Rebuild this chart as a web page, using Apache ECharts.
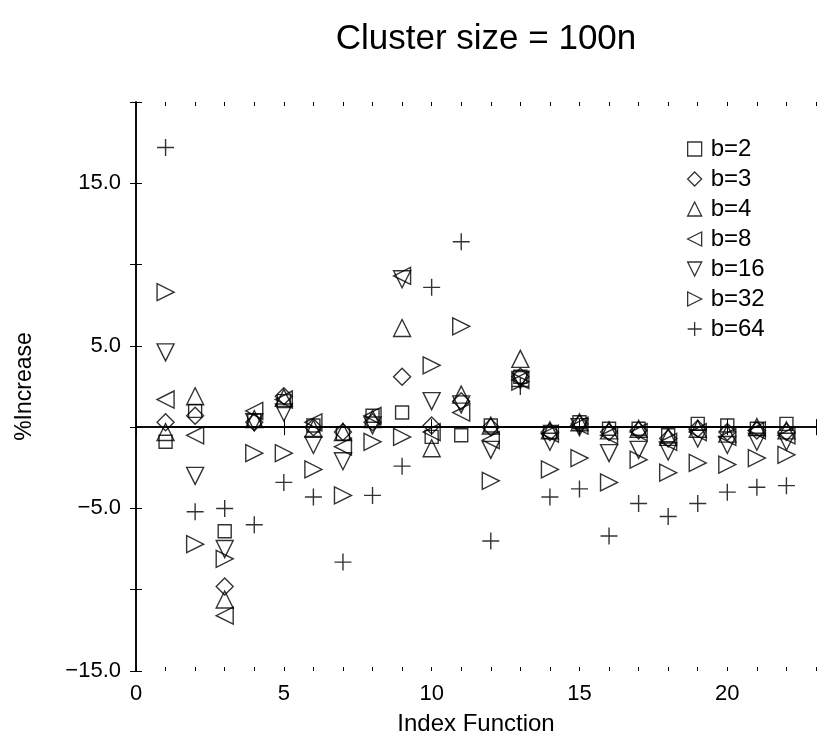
<!DOCTYPE html>
<html>
<head>
<meta charset="utf-8">
<script src="https://cdn.jsdelivr.net/npm/echarts@6/dist/echarts.min.js"></script>
<style>
html,body{margin:0;padding:0;background:#fff;}
#chart{width:819px;height:741px;}
</style>
</head>
<body>
<div id="chart"></div>
<script>
// ---- data ----
const indexFunctions = [1,2,3,4,5,6,7,8,9,10,11,12,13,14,15,16,17,18,19,20,21,22];
const b2  = [-0.9, 1.0, -6.4, 0.4, 1.6, 0.1, -0.4, 0.7, 0.9, -0.6, -0.5, 0.1, 3.1, -0.3, 0.3, -0.1, -0.1, -0.5, 0.2, 0.1, -0.1, 0.2];
const b3  = [0.3, 0.7, -9.8, 0.3, 1.9, 0.0, -0.3, 0.3, 3.1, 0.1, 1.6, 0.0, 3.1, -0.3, 0.2, -0.3, -0.2, -0.7, -0.1, -0.3, -0.2, -0.3];
const b4  = [-0.3, 1.9, -10.6, 0.5, 1.8, -0.1, -0.3, 0.5, 6.1, -1.3, 2.0, 0.1, 4.2, -0.2, 0.3, -0.2, -0.1, -0.6, -0.1, -0.4, 0.0, -0.2];
const b8  = [1.7, -0.5, -11.6, 1.0, 1.7, 0.3, -1.2, 0.7, 9.3, -0.3, 0.9, -0.8, 2.9, -0.4, 0.1, -0.5, -0.3, -0.9, -0.3, -0.6, -0.2, -0.5];
const b16 = [4.6, -3.0, -7.5, 0.3, 0.9, -1.1, -2.1, 0.1, 9.1, 1.6, 1.4, -1.4, 2.9, -0.9, 0.0, -1.6, -1.4, -1.5, -0.7, -1.1, -0.9, -0.9];
const b32 = [8.3, -7.2, -8.1, -1.6, -1.6, -2.6, -4.2, -0.9, -0.6, 3.8, 6.2, -3.3, 2.8, -2.6, -1.9, -3.4, -2.0, -2.8, -2.2, -2.3, -1.9, -1.7];
const b64 = [17.2, -5.2, -5.0, -6.0, -3.4, -4.3, -8.3, -4.2, -2.4, 8.6, 11.4, -7.0, 2.5, -4.3, -3.8, -6.7, -4.7, -5.5, -4.7, -4.0, -3.7, -3.6];
const seriesNames = ['b=2','b=3','b=4','b=8','b=16','b=32','b=64'];
const zeroLineX = [1, 22];
const xTickLabels = [0, 5, 10, 15, 20];
const yTickLabels = [-15, -5, 5, 15];
const titleText = 'Cluster size = 100n';
const xAxisName = 'Index Function';
const yAxisName = '%Increase';

// ---- styling ----
const FONT = '"Liberation Sans", Arial, Helvetica, sans-serif';
const symbols = [
  'rect',
  'diamond',
  'path://M1,0 L2,2 L0,2 Z',
  'path://M2,0 L2,2 L0,1 Z',
  'path://M0,0 L2,0 L1,2 Z',
  'path://M0,0 L0,2 L2,1 Z',
  'path://M1,0 L1,2 M0,1 L2,1'
];
const sizes = [13, 17, 17, 17, 17, 17, 17];
const allValues = [b2, b3, b4, b8, b16, b32, b64];
const markStyle = { color: 'rgba(0,0,0,0)', borderColor: '#000', borderWidth: 1.4 };

const series = allValues.map((vals, k) => ({
  name: seriesNames[k],
  type: 'scatter',
  xAxisIndex: 0,
  yAxisIndex: 0,
  symbol: symbols[k],
  symbolSize: sizes[k],
  data: vals.map((v, i) => [indexFunctions[i], v]),
  itemStyle: markStyle,
  emphasis: { disabled: true },
  z: 3
}));
series.unshift({
  name: 'zero',
  type: 'line',
  xAxisIndex: 0,
  yAxisIndex: 0,
  data: zeroLineX.map(x => [x, 0]),
  symbol: 'none',
  lineStyle: { color: '#000', width: 1.6 },
  silent: true,
  z: 2
});

const gridW = 23 * 30;
const option = {
  animation: false,
  backgroundColor: '#fff',
  title: {
    text: titleText,
    left: 481, top: 17,
    textAlign: 'center',
    textStyle: { fontFamily: FONT, fontSize: 35, fontWeight: 'normal', color: '#000' }
  },
  legend: {
    data: seriesNames.map(n => ({ name: n, itemStyle: { color: 'rgba(0,0,0,0)', borderColor: '#000', borderWidth: 1.3 } })),
    orient: 'vertical',
    left: 687, top: 137,
    padding: 0,
    itemWidth: 14, itemHeight: 14,
    itemGap: 6,
    textStyle: { fontFamily: FONT, fontSize: 24, color: '#000', lineHeight: 24, padding: [0,0,0,4] },
    selectedMode: false
  },
  grid: { left: 136, top: 102, width: gridW, height: 571 },
  xAxis: [
    { type: 'value', position: 'bottom', min: 0, max: 23, interval: 5,
      name: xAxisName, nameLocation: 'middle', nameGap: 41,
      nameTextStyle: { fontFamily: FONT, fontSize: 24, color: '#000' },
      axisLine: { show: true, lineStyle: { color: '#000', width: 1.5 } },
      axisTick: { show: true, inside: true, length: 8, lineStyle: { color: '#000' } },
      axisLabel: { fontFamily: FONT, fontSize: 22, color: '#000', margin: 12,
        formatter: v => xTickLabels.includes(v) ? String(v) : '' },
      splitLine: { show: false } },
    { type: 'value', position: 'top', min: 0, max: 23, interval: 5,
      axisLine: { show: true, lineStyle: { color: '#000', width: 1.5 } },
      axisTick: { show: true, inside: true, length: 8, lineStyle: { color: '#000' } },
      axisLabel: { show: false }, splitLine: { show: false } },
    { type: 'value', position: 'bottom', min: 0, max: 23, interval: 1,
      axisLine: { show: false },
      axisTick: { show: true, inside: true, length: 4, lineStyle: { color: '#000' } },
      axisLabel: { show: false }, splitLine: { show: false } },
    { type: 'value', position: 'top', min: 0, max: 23, interval: 1,
      axisLine: { show: false },
      axisTick: { show: true, inside: true, length: 4, lineStyle: { color: '#000' } },
      axisLabel: { show: false }, splitLine: { show: false } }
  ],
  yAxis: [
    { type: 'value', position: 'left', min: -15, max: 20, interval: 5,
      name: yAxisName, nameLocation: 'middle', nameGap: 100, nameRotate: 90,
      nameTextStyle: { fontFamily: FONT, fontSize: 23, color: '#000' },
      axisLine: { show: true, lineStyle: { color: '#000', width: 1.5 } },
      axisTick: { show: true, inside: true, length: 6, lineStyle: { color: '#000' } },
      axisLabel: { fontFamily: FONT, fontSize: 22, color: '#000', margin: 15,
        formatter: v => yTickLabels.includes(v) ? (v < 0 ? '\u2212' + Math.abs(v).toFixed(1) : v.toFixed(1)) : '' },
      splitLine: { show: false } },
    { type: 'value', position: 'right', min: -15, max: 20, interval: 5,
      axisLine: { show: true, lineStyle: { color: '#000', width: 1.5 } },
      axisTick: { show: true, inside: true, length: 6, lineStyle: { color: '#000' } },
      axisLabel: { show: false }, splitLine: { show: false } }
  ],
  series: series
};
const chart = echarts.init(document.getElementById('chart'), null, { renderer: 'canvas' });
chart.setOption(option);
</script>
</body>
</html>
